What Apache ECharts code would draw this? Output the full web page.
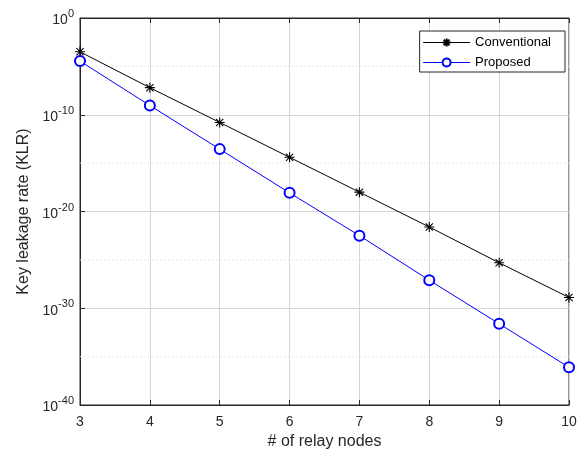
<!DOCTYPE html>
<html>
<head>
<meta charset="utf-8">
<script src="https://cdn.jsdelivr.net/npm/echarts@6/dist/echarts.min.js"></script>
<style>
  html, body { margin: 0; padding: 0; background: #fff; }
  #chart { width: 584px; height: 455px; }
</style>
</head>
<body>
<div id="chart"></div>
<script>
// data
const relayNodes = [3, 4, 5, 6, 7, 8, 9, 10];
const conventionalKLR = [3.2e-4, 6.3e-8, 1.6e-11, 4.0e-15, 1.0e-18, 2.5e-22, 5.0e-26, 1.3e-29];
const proposedKLR = [3.5e-5, 9.1e-10, 2.8e-14, 8.5e-19, 3.2e-23, 7.9e-28, 2.5e-32, 7.9e-37];
// dotted minor grid levels
const minorGridLevels = [1e-5, 1e-15, 1e-25, 1e-35];

const AXIS_COLOR = "#262626";
const GRID_COLOR = "#d6d6d6";
const FONT = "Liberation Sans, Arial, sans-serif";
const ASTERISK = "path://M0,-5L0,5M-5,0L5,0M-3.6,-3.6L3.6,3.6M-3.6,3.6L3.6,-3.6";

function pairs(ys) {
    return relayNodes.map((x, i) => [x, ys[i]]);
}

// horizontal segments across the x range, broken with "-"
function levelSegments(levels) {
    const x0 = relayNodes[0];
    const x1 = relayNodes[relayNodes.length - 1];
    const out = [];
    levels.forEach(v => { out.push([x0, v], [x1, v], "-"); });
    return out;
}

// tick label as 10^n
function powLabel(v) {
    const e = Math.round(Math.log10(v));
    return "{b|10}{s|" + e + "}";
}

const chart = echarts.init(document.getElementById("chart"), null, { renderer: "canvas" });

// NOTE: explicit min 1e-40 breaks the log scale here, the auto extent comes out as 1e-40..1
chart.setOption({
    animation: false,
    backgroundColor: "#fff",
    textStyle: { fontFamily: FONT },
    grid: { left: 80, right: 15, top: 18, bottom: 50, show: true, borderColor: AXIS_COLOR, borderWidth: 1 },
    legend: {
        orient: "vertical",
        right: 19,
        top: 31,
        padding: [5, 14, 3, 3],
        itemGap: 7,
        itemWidth: 47,
        itemHeight: 10,
        backgroundColor: "#fff",
        borderColor: AXIS_COLOR,
        borderWidth: 1,
        borderRadius: 0,
        lineStyle: { width: 1 },
        textStyle: { color: "#000", fontSize: 13, fontFamily: FONT },
        data: ["Conventional", "Proposed"]
    },
    xAxis: [
        {
            type: "value",
            position: "bottom",
            min: 3,
            max: 10,
            interval: 1,
            name: "# of relay nodes",
            nameLocation: "middle",
            nameGap: 29,
            nameTextStyle: { color: AXIS_COLOR, fontSize: 16, fontFamily: FONT },
            axisLine: { lineStyle: { color: AXIS_COLOR, width: 1 } },
            axisTick: { inside: true, length: 5, lineStyle: { color: AXIS_COLOR } },
            axisLabel: { color: AXIS_COLOR, fontSize: 14, margin: 10, fontFamily: FONT },
            splitLine: { show: true, lineStyle: { color: GRID_COLOR, width: 1 } }
        },
        {
            type: "value",
            position: "top",
            min: 3,
            max: 10,
            interval: 1,
            axisLine: { lineStyle: { color: AXIS_COLOR, width: 1 } },
            axisTick: { inside: true, length: 5, lineStyle: { color: AXIS_COLOR } },
            axisLabel: { show: false },
            splitLine: { show: false }
        }
    ],
    yAxis: {
        type: "log",
        logBase: 10,
        splitNumber: 4,
        name: "Key leakage rate (KLR)",
        nameLocation: "middle",
        nameGap: 48,
        nameTextStyle: { color: AXIS_COLOR, fontSize: 16, fontFamily: FONT },
        axisLine: { show: true, lineStyle: { color: AXIS_COLOR, width: 1 } },
        axisTick: { show: true, inside: true, length: 5, lineStyle: { color: AXIS_COLOR } },
        axisLabel: {
            margin: 6,
            formatter: powLabel,
            rich: {
                b: { color: AXIS_COLOR, fontSize: 14, fontFamily: FONT, padding: [5, 0, 0, 0] },
                s: { color: AXIS_COLOR, fontSize: 11, fontFamily: FONT, verticalAlign: "top" }
            }
        },
        splitLine: { show: true, lineStyle: { color: GRID_COLOR, width: 1 } }
    },
    series: [
        {
            name: "minorGrid",
            type: "line",
            data: levelSegments(minorGridLevels),
            symbol: "none",
            silent: true,
            connectNulls: false,
            lineStyle: { color: GRID_COLOR, width: 1, type: [1, 3] },
            emphasis: { disabled: true },
            tooltip: { show: false },
            z: 1
        },
        {
            name: "Conventional",
            type: "line",
            data: pairs(conventionalKLR),
            symbol: ASTERISK,
            symbolSize: 10,
            showAllSymbol: true,
            lineStyle: { color: "#000", width: 1 },
            itemStyle: { color: "#000", borderColor: "#000", borderWidth: 1.1 },
            z: 3
        },
        {
            name: "Proposed",
            type: "line",
            data: pairs(proposedKLR),
            symbol: "emptyCircle",
            symbolSize: 10,
            showAllSymbol: true,
            lineStyle: { color: "#0000ff", width: 1 },
            itemStyle: { color: "#0000ff", borderColor: "#0000ff", borderWidth: 1 },
            z: 3
        }
    ]
});
</script>
</body>
</html>
